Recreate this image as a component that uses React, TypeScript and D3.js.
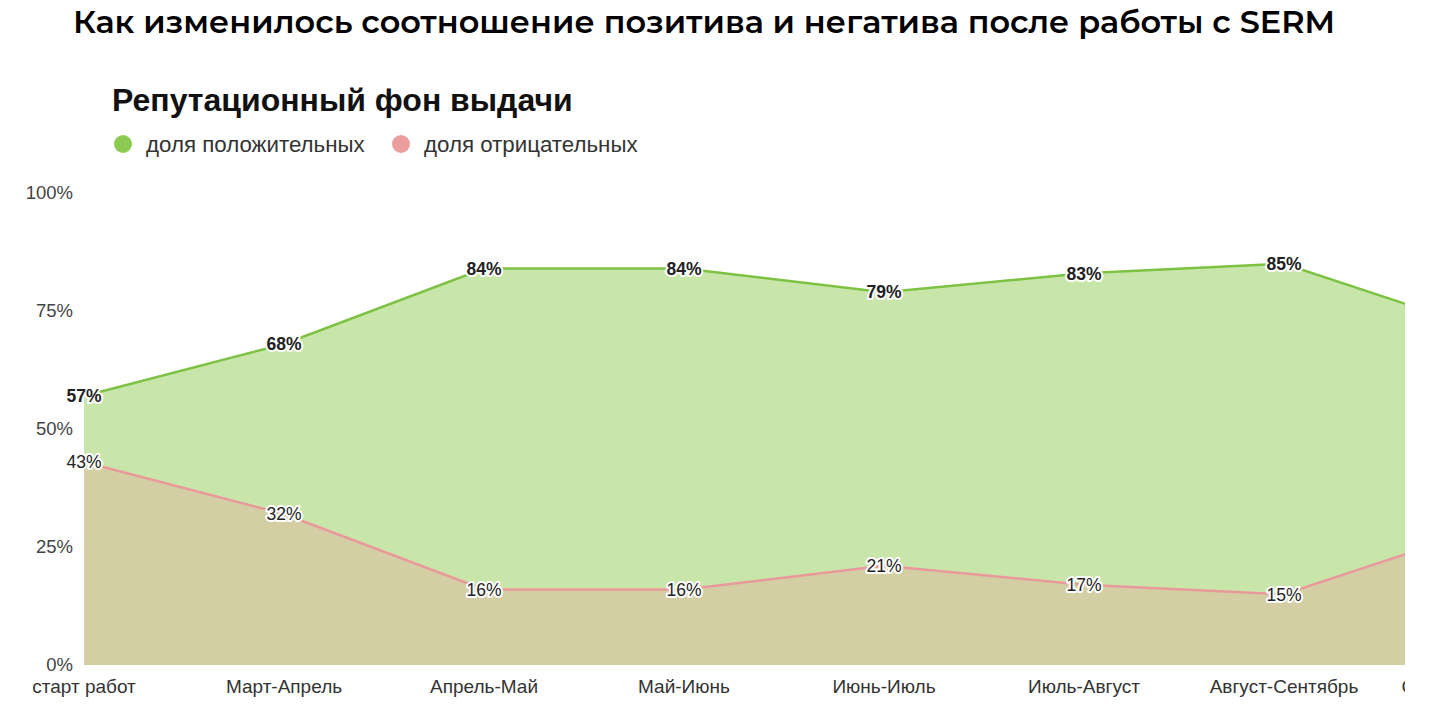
import { useEffect, useRef } from "react";
import * as d3 from "d3";

const periods = ["старт работ", "Март-Апрель", "Апрель-Май", "Май-Июнь", "Июнь-Июль", "Июль-Август", "Август-Сентябрь", "Сентябрь-Октябрь"];
const positive = [57, 68, 84, 84, 79, 83, 85, 71];
const negative = [43, 32, 16, 16, 21, 17, 15, 29];
const yTicks = [0, 25, 50, 75, 100];

const width = 1440, height = 710;
const margin = { top: 193, right: 35, bottom: 45, left: 84 };
const step = 200;
const clipRight = 1405;

const App = () => {
  const chartRef = useRef(null);

  useEffect(() => {
    const svg = d3
      .select(chartRef.current)
      .append("svg")
      .attr("width", width)
      .attr("height", height)
      .style("display", "block")
      .style("font-family", "'Liberation Sans', Arial, sans-serif");

    const x = d3.scalePoint()
      .domain(periods)
      .range([margin.left, margin.left + step * (periods.length - 1)]);

    const y = d3.scaleLinear()
      .domain([0, 100])
      .range([height - margin.bottom, margin.top]);

    // main title
    svg.append("text")
      .attr("x", 73).attr("y", 33)
      .attr("textLength", 1262)
      .attr("lengthAdjust", "spacingAndGlyphs")
      .style("font-family", "Montserrat, 'Open Sans', sans-serif")
      .style("font-weight", 600)
      .style("font-size", "31px")
      .attr("fill", "#000")
      .text("Как изменилось соотношение позитива и негатива после работы с SERM");

    svg.append("text")
      .attr("x", 112).attr("y", 111)
      .style("font-weight", 700)
      .style("font-size", "32px")
      .attr("fill", "#111")
      .text("Репутационный фон выдачи");

    const legend = [
      { label: "доля положительных", color: "#8cc951", x: 123 },
      { label: "доля отрицательных", color: "#eb9e9e", x: 401 },
    ];
    const lg = svg.append("g").selectAll("g").data(legend).join("g")
      .attr("transform", d => `translate(${d.x},144)`);
    lg.append("circle").attr("r", 9).attr("fill", d => d.color);
    lg.append("text")
      .attr("x", 23).attr("dy", "0.35em")
      .style("font-size", "22.3px")
      .attr("fill", "#333")
      .text(d => d.label);

    svg.append("clipPath").attr("id", "plot-clip")
      .append("rect").attr("x", 0).attr("y", 0).attr("width", clipRight).attr("height", height);

    const plot = svg.append("g").attr("clip-path", "url(#plot-clip)");

    const areaOf = (vals: number[]) => d3.area<number>()
      .x((_, i) => x(periods[i]) as number)
      .y0(y(0))
      .y1(d => y(d))(vals);
    const lineOf = (vals: number[]) => d3.line<number>()
      .x((_, i) => x(periods[i]) as number)
      .y(d => y(d))(vals);

    plot.append("path").attr("d", areaOf(positive)).attr("fill", "#c9e6aa");
    plot.append("path").attr("d", areaOf(negative)).attr("fill", "#d3cea3");
    plot.append("path").attr("d", lineOf(positive)).attr("fill", "none").attr("stroke", "#7dc243").attr("stroke-width", 2.5);
    plot.append("path").attr("d", lineOf(negative)).attr("fill", "none").attr("stroke", "#e9999a").attr("stroke-width", 2.5);

    // value labels with white halo (only points inside the visible area)
    const labels = (vals: number[], bold: boolean) => plot.append("g")
      .selectAll("text")
      .data(vals.map((v, i) => ({ v, p: periods[i] })).filter(d => (x(d.p) as number) < clipRight))
      .join("text")
      .attr("x", d => x(d.p) as number)
      .attr("y", d => y(d.v))
      .attr("dy", "0.36em")
      .attr("text-anchor", "middle")
      .style("font-size", "17.5px")
      .style("font-weight", bold ? 700 : 400)
      .attr("fill", "#222")
      .attr("stroke", "#fff")
      .attr("stroke-width", 4)
      .attr("stroke-linejoin", "round")
      .attr("paint-order", "stroke")
      .text(d => `${d.v}%`);
    labels(positive, true);
    labels(negative, false);

    // y axis
    svg.append("g")
      .selectAll("text").data(yTicks).join("text")
      .attr("x", 73).attr("y", d => y(d))
      .attr("dy", "0.35em")
      .attr("text-anchor", "end")
      .style("font-size", "18.5px")
      .attr("fill", "#444")
      .text(d => `${d}%`);

    // x axis labels
    plot.append("g")
      .selectAll("text").data(periods).join("text")
      .attr("x", d => x(d) as number)
      .attr("y", 686)
      .attr("dy", "0.35em")
      .attr("text-anchor", "middle")
      .style("font-size", "19px")
      .attr("fill", "#333")
      .text(d => d);

    return () => {
      d3.select(chartRef.current).select("svg").remove();
    };
  }, []);

  return <div ref={chartRef} style={{ position: "absolute", left: 0, top: 0 }}></div>;
};

export default App;
